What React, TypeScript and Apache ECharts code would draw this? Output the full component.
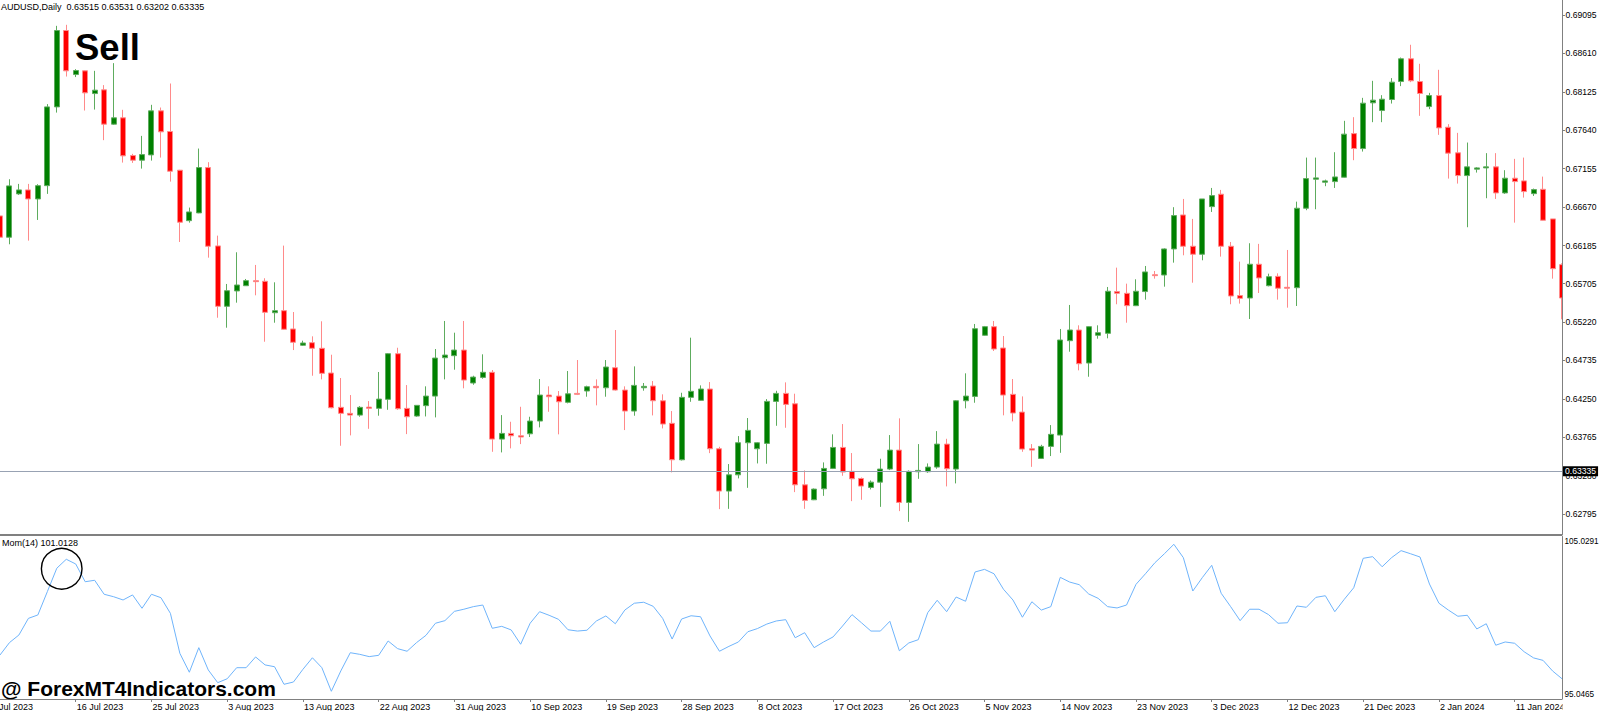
import React, { useEffect, useRef } from "react";
import * as echarts from "echarts";

// ---------- texts ----------
const SYMBOL_TITLE = "AUDUSD,Daily  0.63515 0.63531 0.63202 0.63335";
const MOM_TITLE = "Mom(14) 101.0128";
const SIGNAL_TEXT = "Sell";
const WATERMARK = "@ ForexMT4Indicators.com";

// ---------- calendar (broker with Sunday bars, 6 bars a week) ----------
// The left-most category (5 Jul 2023) lies just off the left edge; its label is cut off.
const FIRST_CATEGORY = { year: 2023, month: 6, day: 5 }; // 5 Jul 2023
const HOLIDAYS = ["2023-12-25", "2024-01-01"];
const MONTHS = ["Jan", "Feb", "Mar", "Apr", "May", "Jun", "Jul", "Aug", "Sep", "Oct", "Nov", "Dec"];
const LABEL_EVERY = 8;

// ---------- price data (daily AUDUSD, from 6 Jul 2023) ----------
const opens = [
  0.66559, 0.66290, 0.66837, 0.66887, 0.66773, 0.66941, 0.67935, 0.68899, 0.68343, 0.68390,
  0.68103, 0.68150, 0.67717, 0.67797, 0.67321, 0.67262, 0.67329, 0.67885, 0.67624, 0.67136,
  0.66499, 0.66597, 0.67169, 0.66180, 0.65418, 0.65612, 0.65678, 0.65742, 0.65734, 0.65337,
  0.65363, 0.65132, 0.64926, 0.64959, 0.64888, 0.64576, 0.64143, 0.64067, 0.64045, 0.64146,
  0.64130, 0.64244, 0.64820, 0.64130, 0.64033, 0.64164, 0.64285, 0.64769, 0.64795, 0.64866,
  0.64450, 0.64521, 0.64585, 0.63742, 0.63814, 0.63784, 0.63809, 0.63970, 0.64298, 0.64285,
  0.64206, 0.64319, 0.64349, 0.64408, 0.64390, 0.64643, 0.64361, 0.64096, 0.64390, 0.64412,
  0.64226, 0.63941, 0.63481, 0.64269, 0.64231, 0.64374, 0.63620, 0.63086, 0.63291, 0.63696,
  0.63620, 0.63688, 0.64218, 0.64319, 0.64188, 0.63165, 0.62976, 0.63115, 0.63372, 0.63637,
  0.63335, 0.63245, 0.63132, 0.63199, 0.63364, 0.63603, 0.62943, 0.63330, 0.63330, 0.63389,
  0.63679, 0.63364, 0.64226, 0.64281, 0.65052, 0.65161, 0.64892, 0.64307, 0.64083, 0.63620,
  0.63498, 0.63650, 0.63793, 0.64984, 0.65119, 0.64702, 0.65052, 0.65077, 0.65604, 0.65582,
  0.65426, 0.65604, 0.65817, 0.65813, 0.66142, 0.66571, 0.66176, 0.66075, 0.66676, 0.66833,
  0.66176, 0.65553, 0.65523, 0.65949, 0.65678, 0.65796, 0.65658, 0.65653, 0.66656, 0.67022,
  0.66984, 0.66992, 0.67047, 0.67598, 0.67409, 0.67986, 0.67889, 0.68028, 0.68255, 0.68542,
  0.68255, 0.67939, 0.68078, 0.67678, 0.67355, 0.67068, 0.67149, 0.67165, 0.67178, 0.66849,
  0.67035, 0.67001, 0.66840, 0.66895, 0.66521, 0.65944,
];
const closes = [
  0.66290, 0.66938, 0.66887, 0.66773, 0.66941, 0.67935, 0.68899, 0.68390, 0.68394, 0.68112,
  0.68146, 0.67717, 0.67797, 0.67317, 0.67262, 0.67333, 0.67885, 0.67620, 0.67123, 0.66479,
  0.66609, 0.67169, 0.66176, 0.65418, 0.65615, 0.65687, 0.65742, 0.65729, 0.65342, 0.65363,
  0.65128, 0.64964, 0.64955, 0.64888, 0.64572, 0.64138, 0.64067, 0.64045, 0.64143, 0.64130,
  0.64247, 0.64820, 0.64125, 0.64024, 0.64168, 0.64285, 0.64765, 0.64803, 0.64866, 0.64487,
  0.64525, 0.64585, 0.63742, 0.63814, 0.63784, 0.63768, 0.63970, 0.64298, 0.64277, 0.64213,
  0.64314, 0.64307, 0.64403, 0.64390, 0.64652, 0.64361, 0.64096, 0.64420, 0.64408, 0.64226,
  0.63932, 0.63481, 0.64269, 0.64345, 0.64374, 0.63620, 0.63086, 0.63291, 0.63696, 0.63852,
  0.63696, 0.64218, 0.64319, 0.64180, 0.63165, 0.62968, 0.63111, 0.63372, 0.63637, 0.63326,
  0.63241, 0.63149, 0.63199, 0.63364, 0.63603, 0.62943, 0.63335, 0.63347, 0.63389, 0.63679,
  0.63368, 0.64226, 0.64285, 0.65135, 0.65161, 0.64879, 0.64298, 0.64071, 0.63616, 0.63603,
  0.63650, 0.63802, 0.64993, 0.65119, 0.64693, 0.65161, 0.65085, 0.65608, 0.65582, 0.65426,
  0.65608, 0.65852, 0.65805, 0.66142, 0.66563, 0.66176, 0.66075, 0.66773, 0.66815, 0.66176,
  0.65548, 0.65519, 0.65949, 0.65776, 0.65792, 0.65646, 0.65646, 0.66656, 0.67030, 0.67039,
  0.67001, 0.67051, 0.67591, 0.67409, 0.67982, 0.68020, 0.68032, 0.68247, 0.68542, 0.68264,
  0.68104, 0.68078, 0.67670, 0.67351, 0.67068, 0.67178, 0.67165, 0.67178, 0.66849, 0.67035,
  0.66992, 0.66866, 0.66891, 0.66504, 0.65893, 0.65523,
];
const lows = [
  0.66250, 0.66201, 0.66824, 0.66247, 0.66508, 0.66837, 0.67863, 0.68318, 0.68311, 0.67889,
  0.67901, 0.67515, 0.67708, 0.67232, 0.67228, 0.67156, 0.67257, 0.67295, 0.66992, 0.66230,
  0.66474, 0.66593, 0.66032, 0.65274, 0.65148, 0.65464, 0.65675, 0.65557, 0.64971, 0.65211,
  0.65119, 0.64866, 0.64917, 0.64542, 0.64496, 0.64130, 0.63658, 0.63789, 0.64024, 0.63872,
  0.64037, 0.64112, 0.64112, 0.63805, 0.64024, 0.64028, 0.64016, 0.64496, 0.64618, 0.64383,
  0.64428, 0.64504, 0.63582, 0.63574, 0.63625, 0.63679, 0.63768, 0.63890, 0.64087, 0.63802,
  0.64193, 0.64298, 0.64277, 0.64168, 0.64277, 0.64353, 0.63856, 0.64037, 0.64353, 0.64041,
  0.63877, 0.63322, 0.63472, 0.64213, 0.64226, 0.63565, 0.62858, 0.62862, 0.63246, 0.63127,
  0.63435, 0.63431, 0.63910, 0.63885, 0.63073, 0.62862, 0.62972, 0.63026, 0.63364, 0.63279,
  0.62959, 0.62976, 0.63107, 0.62887, 0.63351, 0.62833, 0.62698, 0.63241, 0.63317, 0.63368,
  0.63145, 0.63183, 0.64130, 0.64201, 0.65047, 0.64854, 0.64042, 0.63966, 0.63582, 0.63392,
  0.63494, 0.63528, 0.63569, 0.64845, 0.64610, 0.64529, 0.65009, 0.65014, 0.65444, 0.65211,
  0.65421, 0.65502, 0.65767, 0.65666, 0.65969, 0.66062, 0.65716, 0.65999, 0.66609, 0.66045,
  0.65444, 0.65452, 0.65258, 0.65586, 0.65670, 0.65502, 0.65401, 0.65422, 0.66631, 0.66643,
  0.66934, 0.66912, 0.67043, 0.67262, 0.67371, 0.67742, 0.67742, 0.67977, 0.68197, 0.68247,
  0.67822, 0.67906, 0.67582, 0.67030, 0.66967, 0.66416, 0.67106, 0.66782, 0.66773, 0.66837,
  0.66474, 0.66790, 0.66811, 0.66500, 0.65767, 0.65254,
];
const highs = [
  0.66620, 0.67022, 0.66963, 0.66963, 0.66959, 0.67970, 0.68958, 0.68971, 0.68411, 0.68395,
  0.68390, 0.68210, 0.68487, 0.67898, 0.67342, 0.67569, 0.67961, 0.67927, 0.68230, 0.67140,
  0.66664, 0.67409, 0.67237, 0.66310, 0.65700, 0.66100, 0.65763, 0.65940, 0.65772, 0.65721,
  0.66184, 0.65346, 0.64984, 0.65039, 0.65229, 0.64807, 0.64513, 0.64298, 0.64159, 0.64222,
  0.64589, 0.64828, 0.64895, 0.64424, 0.64172, 0.64408, 0.64879, 0.65233, 0.65085, 0.65233,
  0.64542, 0.64812, 0.64614, 0.64045, 0.63961, 0.64150, 0.64024, 0.64500, 0.64408, 0.64349,
  0.64601, 0.64740, 0.64416, 0.64496, 0.64740, 0.65119, 0.64408, 0.64660, 0.64450, 0.64475,
  0.64307, 0.64096, 0.64327, 0.65022, 0.64420, 0.64462, 0.63645, 0.63427, 0.63780, 0.64008,
  0.63705, 0.64247, 0.64352, 0.64458, 0.64315, 0.63347, 0.63119, 0.63448, 0.63802, 0.63932,
  0.63566, 0.63258, 0.63220, 0.63494, 0.63793, 0.64004, 0.63347, 0.63679, 0.63435, 0.63843,
  0.63746, 0.64235, 0.64572, 0.65195, 0.65170, 0.65233, 0.65043, 0.64500, 0.64281, 0.63679,
  0.63670, 0.63919, 0.65132, 0.65435, 0.65178, 0.65165, 0.65178, 0.65662, 0.65906, 0.65704,
  0.65759, 0.65927, 0.65864, 0.66150, 0.66669, 0.66773, 0.66521, 0.66773, 0.66912, 0.66887,
  0.66230, 0.65982, 0.66214, 0.66206, 0.65830, 0.65834, 0.66129, 0.66739, 0.67295, 0.67295,
  0.67017, 0.67363, 0.67759, 0.67805, 0.68049, 0.68264, 0.68083, 0.68298, 0.68558, 0.68719,
  0.68479, 0.68112, 0.68403, 0.67717, 0.67607, 0.67485, 0.67174, 0.67351, 0.67351, 0.67136,
  0.67279, 0.67295, 0.66904, 0.67055, 0.66521, 0.65961,
];

// ---------- Momentum(14) values (from 6 Jul 2023) ----------
const momentum = [
  97.75, 98.51, 98.98, 100.0, 100.21, 101.64, 103.08, 103.63, 103.34, 102.25,
  102.34, 101.48, 101.33, 101.13, 101.44, 100.62, 101.48, 101.27, 100.31, 97.85,
  96.69, 98.2, 96.83, 96.05, 96.29, 96.97, 96.97, 97.63, 97.14, 97.03,
  95.95, 96.09, 96.87, 97.58, 96.97, 95.52, 96.77, 97.89, 97.79, 97.65,
  97.73, 98.61, 98.14, 97.98, 98.51, 98.96, 99.7, 99.86, 100.43, 100.56,
  100.72, 100.82, 99.39, 99.51, 99.29, 98.41, 99.7, 100.41, 100.19, 99.94,
  99.3, 99.22, 99.27, 99.84, 100.15, 99.67, 100.51, 100.93, 100.99, 100.74,
  100.0, 98.73, 99.96, 100.16, 100.1, 98.92, 97.98, 98.28, 98.55, 99.18,
  99.37, 99.65, 99.84, 99.92, 98.81, 99.12, 98.2, 98.55, 98.86, 99.53,
  100.23, 99.73, 99.22, 99.22, 99.82, 98.01, 98.49, 98.69, 100.35, 101.11,
  100.41, 101.31, 101.05, 102.85, 103.01, 102.74, 101.79, 101.13, 100.07, 101.02,
  100.51, 100.72, 102.52, 102.23, 102.07, 101.5, 101.23, 100.72, 100.64, 100.82,
  102.09, 102.74, 103.42, 103.97, 104.55, 103.73, 101.68, 102.5, 103.26, 101.54,
  100.72, 99.86, 100.56, 100.56, 100.23, 99.7, 99.73, 100.76, 100.68, 101.29,
  101.39, 100.41, 101.17, 101.88, 103.69, 103.79, 103.17, 103.73, 104.16, 103.97,
  103.77, 102.11, 100.93, 100.51, 100.13, 100.19, 99.35, 99.67, 98.35, 98.55,
  98.47, 97.95, 97.57, 97.42, 96.77, 96.29,
];

// ---------- axis scales ----------
const priceTicks = [
  0.62795, 0.6328, 0.63765, 0.6425, 0.64735, 0.6522, 0.65705, 0.66185, 0.6667, 0.67155,
  0.6764, 0.68125, 0.6861, 0.69095,
];
const PRICE_MIN = 0.62538;
const PRICE_MAX = 0.69284;
const momTicks = [95.0465, 105.0291];
const BID_PRICE = 0.63335;

const FONT = '"Liberation Sans", Arial, sans-serif';

function buildDates(n: number): string[] {
  const out: string[] = [];
  const d = new Date(Date.UTC(FIRST_CATEGORY.year, FIRST_CATEGORY.month, FIRST_CATEGORY.day));
  while (out.length < n) {
    const iso = d.toISOString().slice(0, 10);
    if (d.getUTCDay() !== 6 && HOLIDAYS.indexOf(iso) < 0) {
      out.push(`${d.getUTCDate()} ${MONTHS[d.getUTCMonth()]} ${d.getUTCFullYear()}`);
    }
    d.setUTCDate(d.getUTCDate() + 1);
  }
  return out;
}

function buildOption() {
  // one extra (empty) category in front: 5 Jul 2023, just off the left edge
  const dates = buildDates(opens.length + 1);
  const candles: any[] = [["-", "-", "-", "-"]].concat(
    opens.map((o, i) => [o, closes[i], lows[i], highs[i]]) as any
  );
  const momData: any[] = ["-"].concat(momentum as any);
  const showLabel = (i: number) => i === 0 || (i > 1 && (i - 1) % LABEL_EVERY === 0);
  const band = 1562 / (opens.length - 1);

  return {
    animation: false,
    backgroundColor: "#ffffff",
    grid: [
      { left: -band, right: 38, top: 0, height: 534.5, containLabel: false, outerBoundsMode: "none" },
      { left: -band, right: 38, top: 536.5, height: 162.5, containLabel: false, outerBoundsMode: "none" },
    ],
    xAxis: [
      {
        type: "category",
        gridIndex: 0,
        data: dates,
        boundaryGap: false,
        axisLine: { show: true, onZero: false, lineStyle: { color: "#808080", width: 2 } },
        axisTick: { show: false },
        axisLabel: { show: false },
        splitLine: { show: false },
      },
      {
        type: "category",
        gridIndex: 1,
        data: dates,
        boundaryGap: false,
        axisLine: { show: true, onZero: false, lineStyle: { color: "#808080", width: 1 } },
        axisTick: { show: true, interval: showLabel, length: 3, lineStyle: { color: "#808080" } },
        axisLabel: {
          interval: showLabel,
          align: "left",
          margin: 3,
          padding: [0, 0, 0, 1],
          fontSize: 9,
          color: "#000",
          fontFamily: FONT,
        },
        splitLine: { show: false },
      },
    ],
    yAxis: [
      {
        type: "value",
        gridIndex: 0,
        position: "right",
        min: PRICE_MIN,
        max: PRICE_MAX,
        z: 4,
        axisLine: { show: true, onZero: false, lineStyle: { color: "#808080", width: 1 } },
        axisTick: { show: true, length: 3, customValues: priceTicks, lineStyle: { color: "#808080" } },
        axisLabel: {
          customValues: priceTicks,
          formatter: (v: number) => v.toFixed(5),
          margin: 3.5,
          fontSize: 8.6,
          color: "#000",
          fontFamily: FONT,
        },
        splitLine: { show: false },
      },
      {
        type: "value",
        gridIndex: 1,
        position: "right",
        min: momTicks[0],
        max: momTicks[1],
        z: 4,
        axisLine: { show: true, onZero: false, lineStyle: { color: "#808080", width: 1 } },
        axisTick: { show: false },
        axisLabel: {
          customValues: momTicks,
          formatter: (v: number) => (v > 100 ? `{t|${v.toFixed(4)}}` : `{b|${v.toFixed(4)}}`),
          margin: 2.5,
          fontSize: 8.2,
          color: "#000",
          fontFamily: FONT,
          rich: {
            t: { padding: [10, 0, 0, 0], fontSize: 8.2, fontFamily: FONT, color: "#000" },
            b: { padding: [0, 0, 10, 0], fontSize: 8.2, fontFamily: FONT, color: "#000" },
          },
        },
        splitLine: { show: false },
      },
    ],
    series: [
      {
        type: "candlestick",
        xAxisIndex: 0,
        yAxisIndex: 0,
        data: candles,
        barWidth: 5.5,
        itemStyle: {
          color: "#008000",
          color0: "#ff0000",
          borderColor: "#5eac5e",
          borderColor0: "#ff8a8a",
          borderWidth: 1,
        },
        markLine: {
          silent: true,
          symbol: ["none", "none"],
          precision: 5,
          z: 5,
          data: [{ yAxis: BID_PRICE }],
          lineStyle: { color: "#98a2b3", width: 1, type: "solid" },
          label: {
            show: true,
            position: "end",
            distance: 1,
            formatter: BID_PRICE.toFixed(5),
            backgroundColor: "#000",
            color: "#fff",
            fontSize: 8.6,
            lineHeight: 9,
            fontFamily: FONT,
            padding: [1, 2, 0, 2],
          },
        },
      },
      {
        type: "line",
        xAxisIndex: 1,
        yAxisIndex: 1,
        data: momData,
        showSymbol: false,
        symbol: "none",
        lineStyle: { color: "#6fb4fb", width: 1 },
      },
    ],
    graphic: [
      {
        type: "rect",
        z: 3,
        shape: { x: 1562.5, y: 0, width: 40, height: 711 },
        style: { fill: "#ffffff" },
        silent: true,
      },
      {
        type: "text",
        z: 10,
        x: 1,
        y: 7,
        style: { text: SYMBOL_TITLE, font: `9px ${FONT}`, fill: "#000", textVerticalAlign: "middle", verticalAlign: "middle" },
      },
      {
        type: "text",
        z: 10,
        x: 75,
        y: 47,
        style: { text: SIGNAL_TEXT, font: `bold 36.5px ${FONT}`, fill: "#000", textVerticalAlign: "middle", verticalAlign: "middle" },
      },
      {
        type: "text",
        z: 10,
        x: 2,
        y: 543,
        style: { text: MOM_TITLE, font: `9px ${FONT}`, fill: "#000", textVerticalAlign: "middle", verticalAlign: "middle" },
      },
      {
        type: "circle",
        z: 10,
        shape: { cx: 61.7, cy: 568.7, r: 20.3 },
        style: { fill: "none", stroke: "#000", lineWidth: 1.4 },
      },
      {
        type: "text",
        z: 10,
        x: 1,
        y: 688.5,
        style: { text: WATERMARK, font: `bold 21px ${FONT}`, fill: "#000", textVerticalAlign: "middle", verticalAlign: "middle" },
      },
    ],
  };
}

export default function App() {
  const ref = useRef<HTMLDivElement>(null);
  useEffect(() => {
    if (!ref.current) return;
    const chart = echarts.init(ref.current, null, { renderer: "svg" });
    chart.setOption(buildOption() as any);
    return () => chart.dispose();
  }, []);
  return (
    <div
      ref={ref}
      style={{ position: "fixed", left: 0, top: 0, width: 1600, height: 711, background: "#ffffff" }}
    />
  );
}
